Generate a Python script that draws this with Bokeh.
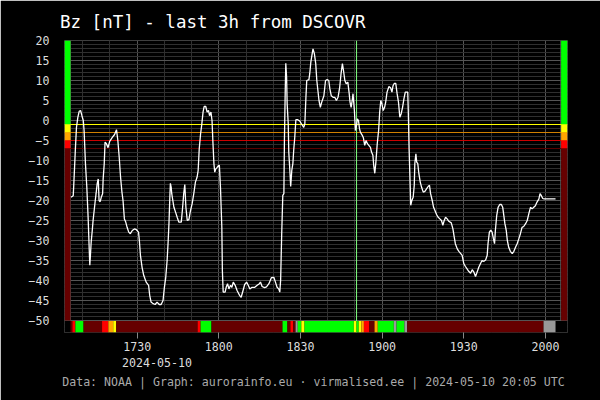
from bokeh.plotting import figure
from bokeh.models import Range1d, FixedTicker, SingleIntervalTicker, Span, Title
from bokeh.embed import file_html
from bokeh.resources import INLINE

# ---------------- data (minutes after 17:00 UTC, 2024-05-10) ----------------
bz_time = [5.7, 6.5, 6.7, 7.0, 7.3, 7.7, 8.2, 8.7, 9.2, 9.7, 10.2, 10.5, 11.0, 11.5, 12.0, 12.4,
           12.6, 12.8, 13.1, 13.5, 13.8, 14.2, 14.6, 14.9, 15.3, 15.7, 16.0, 16.4, 16.8, 17.3, 17.5,
           17.9, 18.2, 18.7, 19.3, 19.9, 20.8, 21.7, 22.4, 22.9, 23.4, 23.9, 24.4, 24.8, 25.3, 25.8,
           26.3, 26.9, 27.5, 28.2, 29.0, 29.7, 30.5, 30.8, 31.2, 31.8, 32.4, 33.3, 34.2, 34.6, 35.1,
           35.9, 36.6, 37.3, 38.1, 38.8, 39.5, 40.0, 40.5, 41.0, 41.4, 41.7, 42.0, 42.2, 42.5, 42.7,
           43.1, 43.5, 44.1, 44.7, 45.3, 46.2, 46.6, 47.1, 47.5, 47.9, 48.4, 49.0, 49.6, 50.2, 50.8,
           51.4, 52.0, 52.4, 52.8, 53.3, 53.7, 54.2, 54.6, 55.2, 55.7, 56.2, 56.6, 57.1, 57.5, 57.8,
           58.2, 58.5, 58.9, 59.4, 59.9, 60.2, 60.6, 61.1, 61.3, 61.6, 62.3, 62.7, 63.2, 63.7, 64.3,
           64.8, 65.3, 66.0, 66.7, 67.6, 68.2, 68.9, 69.5, 70.2, 70.8, 71.4, 72.2, 73.2, 74.1, 74.9,
           75.3, 75.9, 76.8, 77.5, 78.4, 79.3, 80.2, 80.8, 81.4, 82.0, 82.4, 82.7, 82.9, 83.1, 83.5,
           83.9, 84.1, 84.4, 84.6, 84.9, 85.1, 85.5, 85.7, 86.1, 86.4, 86.8, 87.2, 87.5, 87.9, 88.3,
           89.0, 89.8, 90.5, 91.2, 91.6, 92.0, 92.3, 93.1, 93.4, 93.8, 94.3, 94.6, 95.1, 95.6, 96.0,
           96.4, 96.8, 97.3, 97.8, 98.6, 99.2, 99.8, 100.4, 100.8, 101.3, 102.0, 102.6, 103.2, 103.8,
           104.4, 104.9, 105.4, 105.8, 106.3, 106.8, 107.4, 107.9, 108.2, 108.6, 109.0, 109.3, 109.8,
           110.2, 110.6, 110.9, 111.3, 111.7, 112.0, 112.7, 113.1, 113.6, 114.1, 114.6, 115.1, 115.7,
           116.1, 116.6, 116.9, 117.3, 117.7, 118.2, 118.7, 119.1, 119.5, 119.9, 120.4, 120.9, 121.3,
           121.8, 122.5, 123.1, 123.6, 124.0, 124.5, 125.0, 125.5, 126.0, 126.5, 127.0, 127.5, 128.0,
           128.5, 129.4, 129.6, 129.9, 130.3, 130.5, 130.9, 131.4, 131.8, 132.0, 132.4, 132.7, 133.1,
           133.5, 134.0, 134.5, 135.1, 135.7, 136.3, 136.9, 137.4, 137.8, 138.4, 138.9, 139.4, 140.0,
           140.6, 141.2, 141.8, 142.3, 142.8, 143.3, 143.9, 144.5, 145.4, 146.0, 146.5, 146.9, 147.6,
           148.2, 148.8, 149.4, 150.0, 150.6, 151.2, 151.8, 152.5, 153.1, 153.7, 154.3, 154.9, 155.5,
           156.1, 156.7, 157.4, 158.0, 158.6, 158.9, 159.4, 159.9, 160.4, 160.9, 161.3, 161.6, 162.1,
           162.6, 163.2, 163.8, 164.3, 164.7, 165.1, 165.6, 166.0, 166.5, 167.1, 167.8, 168.4, 169.0,
           169.6, 170.2, 170.8, 171.4, 172.0, 172.7, 173.3, 173.9, 174.5, 175.1, 175.7, 176.3, 176.9,
           177.6, 178.0, 178.5, 179.0, 179.5, 183.7]
bz_value = [-19.2, -18.8, -16.2, -11.7, -7.1, -1.7, 0.8, 2.3, 2.5, 1.2, 0.0, -2.5, -10.8, -16.7, -24.6, -32.5,
            -36.2, -34.0, -30.4, -27.5, -25.0, -22.5, -20.0, -18.3, -15.8, -14.6, -20.0, -20.3, -19.2, -18.3, -14.6,
            -10.8, -5.4, -5.8, -6.8, -5.2, -4.3, -3.5, -2.3, -5.0, -9.2, -14.2, -17.9, -20.0, -24.6, -25.4,
            -26.7, -27.9, -28.3, -27.5, -27.1, -27.3, -27.9, -30.0, -33.7, -36.7, -38.7, -40.4, -41.2, -43.7, -45.4,
            -45.8, -46.0, -45.4, -46.0, -46.0, -45.0, -41.7, -39.2, -35.0, -30.0, -25.4, -19.2, -15.7, -16.7, -18.3,
            -20.0, -21.7, -22.9, -24.2, -25.4, -25.4, -22.5, -18.3, -16.0, -21.7, -25.0, -24.8, -22.5, -20.8, -18.3,
            -15.4, -14.2, -12.5, -7.1, -3.3, -1.2, 2.1, 3.5, 3.5, 2.1, 2.5, 1.2, 2.1, 0.0, -5.0,
            -10.8, -12.9, -12.1, -11.7, -11.2, -11.2, -16.7, -26.7, -37.5, -42.9, -42.9, -41.7, -40.8, -42.1, -41.2,
            -41.7, -40.4, -41.2, -42.5, -43.7, -44.2, -42.5, -41.0, -40.4, -41.2, -42.1, -41.7, -41.7, -41.2, -40.8,
            -40.4, -41.5, -41.8, -41.6, -40.8, -39.3, -39.2, -40.4, -41.7, -42.1, -42.9, -40.0, -34.2, -28.3, -18.7,
            -18.3, -5.0, 7.5, 14.3, 10.8, 4.2, -0.8, -7.9, -12.5, -16.5, -12.5, -10.8, -7.5, -4.2, 0.2,
            0.2, -0.2, -1.0, -1.7, -0.8, 5.8, 10.0, 10.2, 11.7, 14.6, 16.7, 17.9, 16.7, 14.2, 10.0,
            7.5, 5.0, 3.3, 4.6, 6.2, 10.0, 10.2, 10.0, 7.9, 6.2, 5.8, 5.8, 5.0, 5.8,
            8.3, 11.7, 14.2, 12.5, 10.0, 9.2, 9.6, 6.7, 4.6, 3.3, 5.0, 6.7, 2.5,
            -2.5, -1.2, 0.4, 0.0, -2.1, -2.9, -3.7, -4.3, -6.2, -5.0, -5.8, -6.2, -6.7,
            -7.9, -8.7, -11.2, -13.2, -10.4, -5.8, -2.5, 2.1, 5.0, 4.2, 2.5, 3.3, 4.6,
            7.1, 8.5, 8.2, 7.1, 8.7, 9.3, 9.3, 6.7, 4.6, 0.8, 1.7, 3.3, 5.4,
            7.1, 7.1, 2.5, -7.1, -16.2, -21.2, -20.0, -19.2, -16.2, -10.8, -8.3, -10.4, -10.8,
            -13.3, -15.4, -16.7, -17.9, -17.7, -17.1, -16.5, -16.2, -18.3, -20.0, -21.7, -22.5, -23.5,
            -24.2, -24.6, -25.0, -26.2, -25.0, -24.2, -24.6, -25.2, -25.6, -27.1, -29.2, -30.8, -32.1,
            -32.7, -33.2, -33.7, -35.8, -36.5, -37.1, -37.7, -38.2, -37.3, -37.9, -39.0, -37.9, -36.7,
            -35.8, -35.0, -35.2, -34.9, -33.7, -30.8, -27.9, -27.4, -27.9, -29.6, -30.8, -27.5, -23.7,
            -21.7, -21.0, -21.0, -21.7, -23.7, -25.8, -27.5, -30.0, -31.7, -32.7, -33.3, -32.7, -31.7,
            -30.8, -29.6, -28.3, -26.7, -26.5, -25.8, -25.0, -23.3, -21.7, -22.1, -21.7, -21.3, -20.4,
            -19.6, -18.3, -18.8, -19.5, -19.6, -19.6]

# status strip under the chart: segment start (minutes after 17:00) and state
strip_start = [5.5, 6.2, 7.3, 10.3, 17.1, 19.4, 21.2, 22.3, 52.2, 53.3, 57.3, 83.4, 85.2, 86.3, 87.3, 88.2,
               89.0, 90.3, 91.5, 109.6, 110.6, 111.4, 112.4, 113.3, 115.3, 117.2, 118.4, 124.3, 125.3,
               128.2, 129.2, 179.3]
strip_last_end = 183.7
strip_state = ["d", "r", "g", "d", "r", "o", "y", "d", "r", "g", "d", "g", "d", "r", "d", "n",
               "g", "y", "g", "y", "g", "y", "o", "r", "d", "o", "g", "n", "g",
               "n", "d", "n"]
state_colors = {"g": "#00ff00", "y": "#ffff00", "o": "#ffa500", "r": "#ff0000",
                "d": "#660000", "n": "#999999"}

# Bz level bands (side bars) and threshold lines
band_top = [20, -1, -3, -5, -7]
band_bottom = [-1, -3, -5, -7, -50]
band_colors = ["#00ff00", "#ffff00", "#ffa500", "#ff0000", "#660000"]
threshold_values = [-1, -3, -5, -7]
threshold_colors = ["#ffff00", "#d08000", "#cc0000", "#5a0000"]

tick_minutes = [30, 60, 90, 120, 150, 180]
tick_labels = ["1730", "1800", "1830", "1900", "1930", "2000"]
date_text = "2024-05-10"
marker_minute = 110.6
window_start, window_end = 5.5, 185.6

title_text = "Bz [nT] - last 3h from DSCOVR"
footer_text = "Data: NOAA | Graph: aurorainfo.eu \u00b7 virmalised.ee | 2024-05-10 20:05 UTC"

# ---------------- layout ----------------
x_lo, x_hi = 3.3, 188.1
y_lo, y_hi = -53.0, 20.0
strip_top = -50.15
FONT = "DejaVu Sans Mono"
SMALL = "11.6px"

p = figure(frame_width=503, frame_height=292, min_border_left=64, min_border_right=33,
           min_border_top=40, min_border_bottom=68,
           x_range=Range1d(x_lo, x_hi), y_range=Range1d(y_lo, y_hi),
           output_backend="svg", toolbar_location=None)
p.background_fill_color = "black"
p.border_fill_color = "black"
p.outline_line_color = None

# grids
p.xgrid.ticker = SingleIntervalTicker(interval=30, num_minor_ticks=3)
p.ygrid.ticker = SingleIntervalTicker(interval=5, num_minor_ticks=5)
for g in (p.xgrid, p.ygrid):
    g.grid_line_color = "#555555"
    g.grid_line_width = 1
    g.minor_grid_line_color = "#2f2f2f"

# window borders, threshold lines, marker
for xv in (window_start, window_end):
    p.add_layout(Span(location=xv, dimension="height", line_color="#555555",
                      line_width=1, level="underlay"))
for v, c in zip(threshold_values, threshold_colors):
    p.add_layout(Span(location=v, dimension="width", line_color=c, line_width=1,
                      level="underlay"))
p.add_layout(Span(location=marker_minute, dimension="height", line_color="#80ff80",
                  line_width=1, level="underlay"))

# side bars
for top, bot, col in zip(band_top, band_bottom, band_colors):
    p.quad(left=[x_lo], right=[window_start], top=[top], bottom=[bot], color=col, line_width=0)
    p.quad(left=[window_end + 0.15], right=[x_hi], top=[top], bottom=[bot], color=col, line_width=0)

# status strip
p.quad(left=[x_lo], right=[x_hi], top=[strip_top], bottom=[y_lo], color="black", line_width=0)
strip_end = strip_start[1:] + [strip_last_end]
p.quad(left=strip_start, right=strip_end, top=strip_top, bottom=y_lo,
       color=[state_colors[s] for s in strip_state], line_width=0)

# Bz line
p.line(bz_time, bz_value, line_color="white", line_width=1.3)

# axes
p.xaxis.ticker = FixedTicker(ticks=tick_minutes)
p.xaxis.major_label_overrides = {t: l for t, l in zip(tick_minutes, tick_labels)}
p.xaxis.axis_line_color = None
p.xaxis.major_tick_line_color = "#888888"
p.xaxis.major_tick_out = 6
p.xaxis.major_tick_in = 0
p.xaxis.minor_tick_line_color = None
p.xaxis.major_label_standoff = 3
p.yaxis.ticker = SingleIntervalTicker(interval=5)
p.yaxis.axis_line_color = None
p.yaxis.major_tick_line_color = None
p.yaxis.minor_tick_line_color = None
p.yaxis.major_label_standoff = 9
for ax in (p.xaxis, p.yaxis):
    ax.major_label_text_font = FONT
    ax.major_label_text_font_size = SMALL
    ax.major_label_text_color = "#dddddd"

# texts
p.title.text = title_text
p.title.align = "left"
p.title.offset = -4.5
p.title.standoff = 18
p.title.text_font = FONT
p.title.text_font_size = "17.5px"
p.title.text_font_style = "normal"
p.title.text_color = "white"

p.add_layout(Title(text=date_text, align="left", offset=57.6, standoff=5,
                   text_font=FONT, text_font_size=SMALL, text_font_style="normal",
                   text_color="#dddddd"), "below")
p.add_layout(Title(text=footer_text, align="left", offset=-2.3, standoff=6,
                   text_font=FONT, text_font_size=SMALL, text_font_style="normal",
                   text_color="#aaaaaa"), "below")

open("out.html", "w").write(file_html(p, INLINE))
